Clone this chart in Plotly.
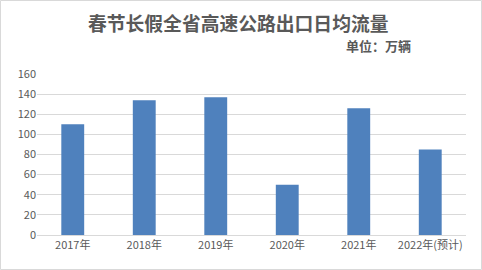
import plotly.graph_objects as go

years = ["2017年", "2018年", "2019年", "2020年", "2021年", "2022年(预计)"]
flow = [110, 134, 137, 50, 126, 85]
y_ticks = [0, 20, 40, 60, 80, 100, 120, 140, 160]

W, H = 482, 270
L, R, T, B = 37, 16, 74, 35
pw, ph = W - L - R, H - T - B

fig = go.Figure(go.Bar(x=years, y=flow, marker=dict(color="#4f81bd", line=dict(width=0)), width=0.32))

fig.update_layout(
    width=W, height=H,
    margin=dict(l=L, r=R, t=T, b=B),
    paper_bgcolor="white", plot_bgcolor="white",
    showlegend=False,
    font=dict(family="Noto Sans CJK SC", size=11, color="#595959"),
    xaxis=dict(showgrid=False, showline=True, linecolor="#d9d9d9", linewidth=1,
               ticks="", tickfont=dict(size=11, color="#595959")),
    yaxis=dict(range=[0, 160], tickvals=y_ticks, showgrid=True, gridcolor="#d9d9d9",
               gridwidth=1, zeroline=False, ticks="", showline=False,
               tickfont=dict(size=11, color="#595959")),
    annotations=[
        dict(text="<b>春节长假全省高速公路出口日均流量</b>", xref="paper", yref="paper",
             x=(238 - L) / pw, y=1 + (T - 22) / ph, xanchor="center", yanchor="middle",
             showarrow=False, font=dict(size=18.8, color="#595959", family="Noto Sans CJK SC")),
        dict(text="<b>单位：万辆</b>", xref="paper", yref="paper",
             x=(378 - L) / pw, y=1 + (T - 45) / ph, xanchor="center", yanchor="middle",
             showarrow=False, font=dict(size=13, color="#595959", family="Noto Sans CJK SC")),
    ],
    shapes=[dict(type="rect", xref="paper", yref="paper",
                 x0=-(L - 0.5) / pw, x1=1 + (R - 0.5) / pw,
                 y0=-(B - 0.5) / ph, y1=1 + (T - 0.5) / ph,
                 line=dict(color="#d9d9d9", width=1), fillcolor="rgba(0,0,0,0)", layer="below")],
    bargap=0.68,
)

fig.write_html("out.html")
